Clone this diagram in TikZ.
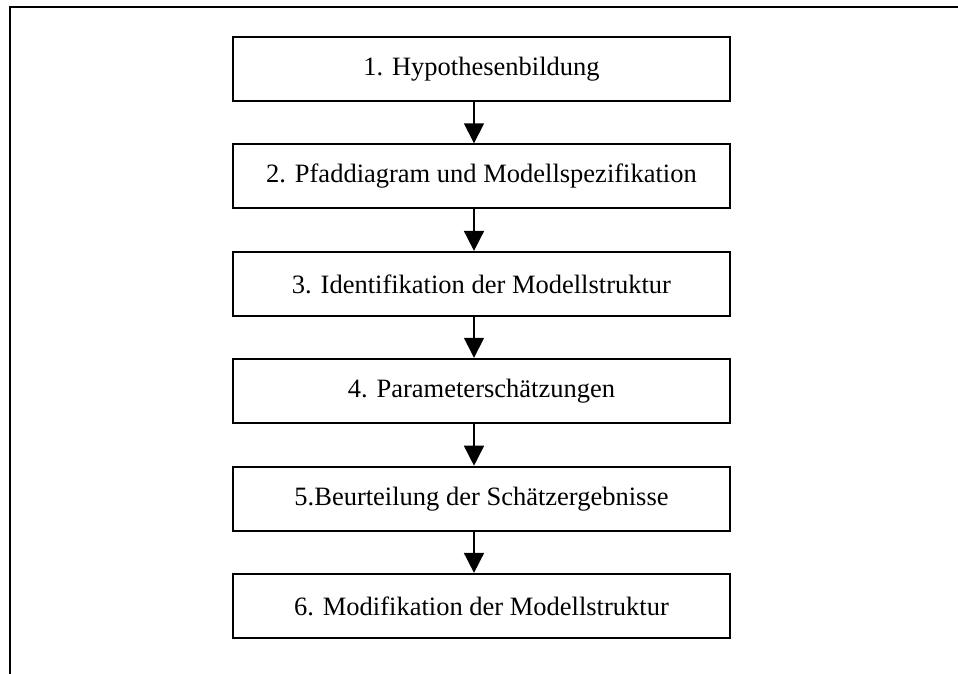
\documentclass[tikz,border=0pt]{standalone}
\usepackage{fontspec}
\setmainfont{Liberation Serif}
\usetikzlibrary{arrows.meta}
\begin{document}
\begin{tikzpicture}[x=1pt,y=-1pt,
  stepbox/.style={draw, line width=2pt, rectangle, minimum width=497pt, minimum height=64pt,
    inner sep=0pt, font=\fontsize{26.5}{30}\selectfont},
  flow/.style={line width=1.6pt, -{Triangle[length=20pt,width=20pt]}},
  frame/.style={line width=2.2pt}]
\useasboundingbox (0,0) rectangle (958,674);
% open outer frame: top and left edges only
\coordinate (ftl) at (10,7);
\coordinate (ftr) at (958,7);
\coordinate (fbl) at (10,674);
\draw[frame] (ftr) -- (ftl) -- (fbl);
% process steps
\node[stepbox] (s1) at (481.5,69.5) {1. Hypothesenbildung};
\node[stepbox] (s2) at (481.5,176.3) {2. Pfaddiagram und Modellspezifikation};
\node[stepbox] (s3) at (481.5,283.9) {3. Identifikation der Modellstruktur};
\node[stepbox] (s4) at (481.5,390.8) {4. Parameterschätzungen};
\node[stepbox] (s5) at (481.5,498.7) {5.Beurteilung der Schätzergebnisse};
\node[stepbox] (s6) at (481.5,605.9) {6. Modifikation der Modellstruktur};
% arrows run slightly left of the box centres
\coordinate (ax) at (474,0);
\draw[flow] (s1.south -| ax) -- (s2.north -| ax);
\draw[flow] (s2.south -| ax) -- (s3.north -| ax);
\draw[flow] (s3.south -| ax) -- (s4.north -| ax);
\draw[flow] (s4.south -| ax) -- (s5.north -| ax);
\draw[flow] (s5.south -| ax) -- (s6.north -| ax);
\end{tikzpicture}
\end{document}
